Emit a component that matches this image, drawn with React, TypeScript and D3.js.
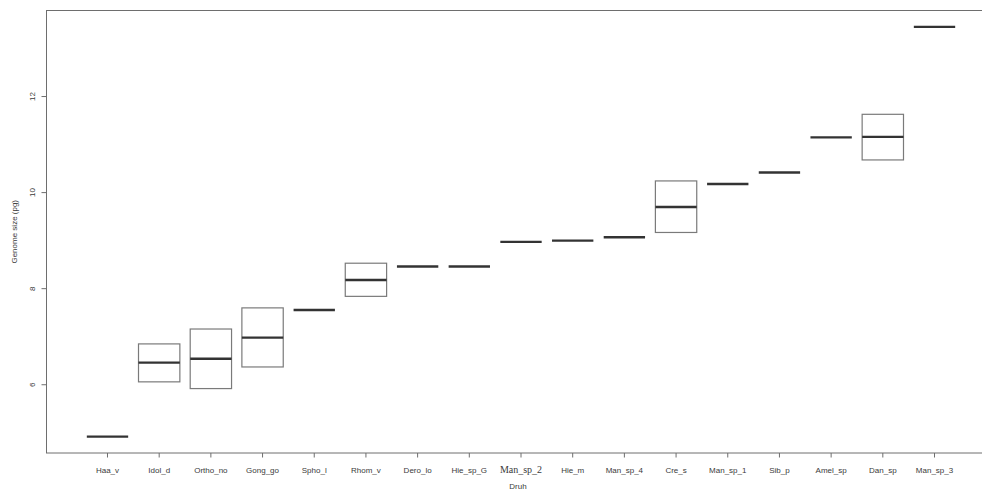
import * as d3 from 'd3';

// genome size per species (pg): lower hinge, median, upper hinge
const species = [
  "Haa_v", "Idol_d", "Ortho_no", "Gong_go", "Spho_l", "Rhom_v", "Dero_lo", "Hie_sp_G",
  "Man_sp_2", "Hie_m", "Man_sp_4", "Cre_s", "Man_sp_1", "Sib_p", "Amel_sp", "Dan_sp", "Man_sp_3"
];
const lower = [4.92, 6.06, 5.92, 6.37, 7.555, 7.84, 8.46, 8.46, 8.975, 9.0, 9.07, 9.17, 10.18, 10.42, 11.15, 10.68, 13.45];
const median = [4.92, 6.46, 6.54, 6.98, 7.555, 8.18, 8.46, 8.46, 8.975, 9.0, 9.07, 9.70, 10.18, 10.42, 11.15, 11.16, 13.45];
const upper = [4.92, 6.85, 7.16, 7.60, 7.555, 8.53, 8.46, 8.46, 8.975, 9.0, 9.07, 10.243, 10.18, 10.42, 11.15, 11.63, 13.45];
const yTicks = [6, 8, 10, 12];

const W = 982;
const H = 491;
const left = 46.5;
const right = 995.5;
const top = 10.5;
const bottom = 453;

export default function App() {
  const n = species.length;
  // R style 4% padding on both axes
  const xPad = 0.04 * n;
  const x = d3.scaleLinear().domain([0.5 - xPad, n + 0.5 + xPad]).range([left, right]);
  const yMin = d3.min(lower) as number;
  const yMax = d3.max(upper) as number;
  const yPad = (yMax - yMin) * 0.04;
  const y = d3.scaleLinear().domain([yMin - yPad, yMax + yPad]).range([bottom, top]);
  const half = 0.4 * (x(1) - x(0));
  const axisColor = "#6e6e6e";
  const textColor = "#3a3a3a";

  return (
    <svg width={W} height={H} style={{ position: 'absolute', left: 0, top: 0, display: 'block', background: '#fff' }}
      fontFamily="'Liberation Sans', Arial, sans-serif">
      {/* boxes */}
      {species.map((s, i) => {
        const cx = x(i + 1);
        return (
          <g key={s}>
            {upper[i] > lower[i] && (
              <rect x={cx - half} y={y(upper[i])} width={half * 2} height={y(lower[i]) - y(upper[i])}
                fill="none" stroke="#7a7a7a" strokeWidth={1.2} />
            )}
            <line x1={cx - half} x2={cx + half} y1={y(median[i])} y2={y(median[i])}
              stroke="#333" strokeWidth={2.4} />
          </g>
        );
      })}

      {/* plot frame */}
      <rect x={left} y={top} width={right - left} height={bottom - top} fill="none" stroke={axisColor} strokeWidth={1} />

      {/* x axis */}
      {species.map((s, i) => (
        <g key={s}>
          <line x1={x(i + 1)} x2={x(i + 1)} y1={bottom} y2={bottom + 4.5} stroke={axisColor} />
          <text x={x(i + 1)} y={473} textAnchor="middle" fontSize={s === "Man_sp_2" ? 10 : 8}
            fontFamily={s === "Man_sp_2" ? "'Liberation Serif', serif" : undefined} fill={textColor}>{s}</text>
        </g>
      ))}
      <text x={(left + right) / 2 - 3} y={488.5} textAnchor="middle" fontSize={8} fill={textColor}>Druh</text>

      {/* y axis */}
      {yTicks.map(t => (
        <g key={t}>
          <line x1={left - 5} x2={left} y1={y(t)} y2={y(t)} stroke={axisColor} />
          <text transform={`translate(35,${y(t)}) rotate(-90)`} textAnchor="middle" fontSize={8} fill={textColor}>{t}</text>
        </g>
      ))}
      <text transform={`translate(17,${(top + bottom) / 2}) rotate(-90)`} textAnchor="middle" fontSize={8} fill={textColor}>
        Genome size (pg)
      </text>
    </svg>
  );
}
